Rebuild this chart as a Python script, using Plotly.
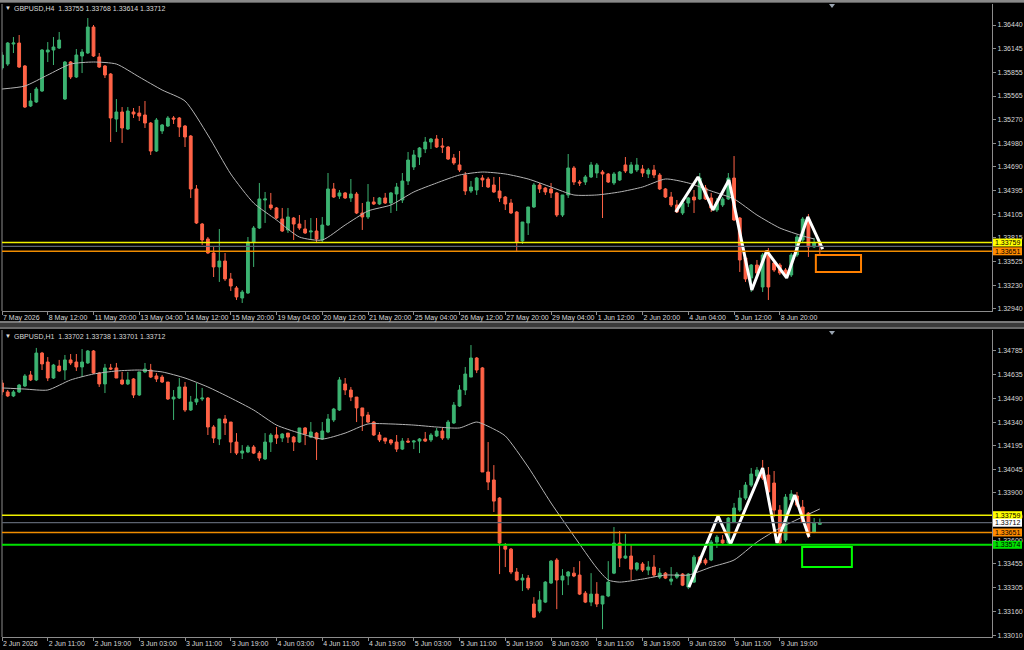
import plotly.graph_objects as go

# ---------------- H4 panel (top) ----------------
h4_labels = ["7 May 2026", "8 May 12:00", "11 May 20:00", "13 May 04:00", "14 May 12:00",
             "15 May 20:00", "19 May 04:00", "20 May 12:00", "21 May 20:00", "25 May 04:00",
             "26 May 12:00", "27 May 20:00", "29 May 04:00", "1 Jun 12:00", "2 Jun 20:00",
             "4 Jun 04:00", "5 Jun 12:00", "8 Jun 20:00"]
h4_ticks = [1.36440, 1.36145, 1.35855, 1.35565, 1.35270, 1.34980, 1.34690, 1.34395,
            1.34105, 1.33815, 1.33525, 1.33230, 1.32940]

h4_open = [
    1.35910, 1.35959, 1.36206, 1.36218, 1.35935, 1.35442, 1.35491, 1.35627, 1.36107, 1.36132,
    1.36156, 1.35528, 1.35984, 1.35799, 1.36058, 1.36095, 1.36415, 1.36046, 1.35935, 1.35836,
    1.35281, 1.35368, 1.35158, 1.35368, 1.35355, 1.35331, 1.35232, 1.34887, 1.35134, 1.35195,
    1.35294, 1.35294, 1.35195, 1.35072, 1.34419, 1.33987, 1.33803, 1.33630, 1.33458, 1.33531,
    1.33310, 1.33199, 1.33075, 1.33137, 1.33766, 1.33938, 1.34283, 1.34222, 1.34185, 1.34049,
    1.33914, 1.34061, 1.33987, 1.33926, 1.33889, 1.33901, 1.33790, 1.33975, 1.34419, 1.34332,
    1.34370, 1.34308, 1.34357, 1.34123, 1.34074, 1.34259, 1.34234, 1.34308, 1.34246, 1.34357,
    1.34283, 1.34517, 1.34690, 1.34813, 1.34912, 1.34998, 1.35035, 1.34949, 1.34936, 1.34801,
    1.34715, 1.34591, 1.34394, 1.34406, 1.34554, 1.34542, 1.34468, 1.34394, 1.34320, 1.34246,
    1.34135, 1.33778, 1.34000, 1.34197, 1.34468, 1.34431, 1.34419, 1.34370, 1.34098, 1.34345,
    1.34678, 1.34505, 1.34505, 1.34567, 1.34616, 1.34628, 1.34604, 1.34493, 1.34530, 1.34715,
    1.34616, 1.34653, 1.34665, 1.34604, 1.34653, 1.34591, 1.34419, 1.34320, 1.34222, 1.34123,
    1.34246, 1.34320, 1.34296, 1.34431, 1.34308, 1.34160, 1.34222, 1.34296, 1.34554, 1.34061,
    1.33568, 1.33322, 1.33482, 1.33211, 1.33605, 1.33507, 1.33482, 1.33420, 1.33359, 1.33605,
    1.33790, 1.34049, 1.33704, 1.33755]
h4_high = [
    1.36107, 1.36230, 1.36292, 1.36317, 1.35947, 1.35602, 1.35676, 1.36144, 1.36230, 1.36292,
    1.36354, 1.35996, 1.35996, 1.36144, 1.36144, 1.36526, 1.36440, 1.36095, 1.35947, 1.35848,
    1.35528, 1.35429, 1.35429, 1.35417, 1.35442, 1.35503, 1.35244, 1.35294, 1.35220, 1.35318,
    1.35318, 1.35306, 1.35208, 1.35084, 1.34468, 1.34000, 1.33827, 1.33704, 1.33926, 1.33630,
    1.33384, 1.33223, 1.33174, 1.33827, 1.33963, 1.34493, 1.34382, 1.34370, 1.34197, 1.34185,
    1.34185, 1.34074, 1.34098, 1.34037, 1.34061, 1.34061, 1.34074, 1.34616, 1.34493, 1.34406,
    1.34382, 1.34542, 1.34382, 1.34246, 1.34480, 1.34320, 1.34320, 1.34370, 1.34382, 1.34493,
    1.34616, 1.34875, 1.34899, 1.34936, 1.35060, 1.35047, 1.35084, 1.35047, 1.34949, 1.34850,
    1.34887, 1.34628, 1.34517, 1.34567, 1.34591, 1.34567, 1.34567, 1.34567, 1.34332, 1.34296,
    1.34148, 1.34012, 1.34197, 1.34493, 1.34493, 1.34443, 1.34493, 1.34382, 1.34345, 1.34850,
    1.34702, 1.34530, 1.34591, 1.34752, 1.34739, 1.34653, 1.34616, 1.34628, 1.34641, 1.34813,
    1.34752, 1.34801, 1.34715, 1.34678, 1.34715, 1.34616, 1.34431, 1.34382, 1.34283, 1.34283,
    1.34320, 1.34406, 1.34616, 1.34468, 1.34370, 1.34308, 1.34320, 1.34616, 1.34825, 1.34074,
    1.33581, 1.33494, 1.33544, 1.33630, 1.33692, 1.33544, 1.33507, 1.33445, 1.33630, 1.33852,
    1.34074, 1.34110, 1.33815, 1.33768]
h4_low = [
    1.35885, 1.35935, 1.36095, 1.35910, 1.35417, 1.35429, 1.35479, 1.35614, 1.35984, 1.35947,
    1.36144, 1.35516, 1.35774, 1.35787, 1.35848, 1.36083, 1.36046, 1.35910, 1.35787, 1.34998,
    1.35121, 1.34986, 1.35146, 1.35294, 1.35257, 1.35171, 1.34838, 1.34875, 1.35097, 1.35183,
    1.35220, 1.35060, 1.34936, 1.34308, 1.33987, 1.33729, 1.33618, 1.33334, 1.33273, 1.33285,
    1.33162, 1.33051, 1.33014, 1.33125, 1.33458, 1.33926, 1.34000, 1.34160, 1.34049, 1.33889,
    1.33877, 1.33790, 1.33914, 1.33864, 1.33790, 1.33753, 1.33766, 1.33963, 1.34308, 1.34296,
    1.34296, 1.34259, 1.34110, 1.33914, 1.34049, 1.34222, 1.34222, 1.34234, 1.34123, 1.34148,
    1.34246, 1.34468, 1.34653, 1.34715, 1.34862, 1.34912, 1.34924, 1.34862, 1.34776, 1.34715,
    1.34628, 1.34345, 1.34370, 1.34345, 1.34443, 1.34431, 1.34370, 1.34259, 1.34160, 1.34110,
    1.33655, 1.33741, 1.33852, 1.34185, 1.34370, 1.34345, 1.34308, 1.34074, 1.34074, 1.34308,
    1.34468, 1.34456, 1.34468, 1.34554, 1.34554, 1.34061, 1.34493, 1.34468, 1.34517, 1.34616,
    1.34604, 1.34628, 1.34567, 1.34554, 1.34554, 1.34406, 1.34308, 1.34197, 1.34123, 1.34098,
    1.34197, 1.34123, 1.34283, 1.34283, 1.34135, 1.34135, 1.34197, 1.34283, 1.34024, 1.33396,
    1.33273, 1.33149, 1.33359, 1.33149, 1.33051, 1.33396, 1.33359, 1.33334, 1.33334, 1.33581,
    1.33753, 1.33581, 1.33692, 1.33614]
h4_close = [
    1.36070, 1.36218, 1.36218, 1.35922, 1.35429, 1.35503, 1.35651, 1.36132, 1.36132, 1.36169,
    1.36255, 1.35984, 1.35799, 1.36070, 1.36107, 1.36415, 1.36058, 1.35922, 1.35824, 1.35294,
    1.35368, 1.35171, 1.35380, 1.35343, 1.35318, 1.35232, 1.34887, 1.35269, 1.35208, 1.35294,
    1.35281, 1.35183, 1.35060, 1.34419, 1.34000, 1.33790, 1.33630, 1.33458, 1.33531, 1.33310,
    1.33223, 1.33088, 1.33149, 1.33766, 1.33938, 1.34296, 1.34296, 1.34185, 1.34061, 1.33901,
    1.34074, 1.33987, 1.33938, 1.33877, 1.33901, 1.33803, 1.33975, 1.34419, 1.34320, 1.34370,
    1.34308, 1.34357, 1.34123, 1.34074, 1.34259, 1.34234, 1.34308, 1.34246, 1.34370, 1.34443,
    1.34517, 1.34776, 1.34838, 1.34924, 1.34998, 1.35035, 1.34936, 1.34936, 1.34788, 1.34739,
    1.34653, 1.34394, 1.34443, 1.34554, 1.34530, 1.34443, 1.34382, 1.34308, 1.34234, 1.34123,
    1.33766, 1.34012, 1.34197, 1.34468, 1.34419, 1.34382, 1.34370, 1.34098, 1.34345, 1.34678,
    1.34505, 1.34493, 1.34567, 1.34715, 1.34715, 1.34604, 1.34505, 1.34604, 1.34628, 1.34641,
    1.34715, 1.34715, 1.34616, 1.34653, 1.34591, 1.34419, 1.34320, 1.34222, 1.34135, 1.34246,
    1.34308, 1.34283, 1.34554, 1.34296, 1.34185, 1.34259, 1.34296, 1.34554, 1.34037, 1.33544,
    1.33310, 1.33482, 1.33384, 1.33605, 1.33211, 1.33420, 1.33384, 1.33359, 1.33605, 1.33827,
    1.34049, 1.33704, 1.33753, 1.33712]

h4_ma_idx = [0, 4, 8, 12, 16, 20, 24, 28, 32, 36, 40, 44, 48, 52, 56, 60, 64, 68, 72, 76, 80,
             84, 88, 92, 96, 100, 104, 108, 112, 116, 120, 124, 128, 132, 136, 140, 142]
h4_ma = [1.35651, 1.35688, 1.35824, 1.35959, 1.35984, 1.35959, 1.35799, 1.35639, 1.35503,
         1.35084, 1.34604, 1.34246, 1.34037, 1.33827, 1.33790, 1.33975, 1.34148, 1.34222,
         1.34382, 1.34493, 1.34591, 1.34628, 1.34604, 1.34542, 1.34443, 1.34345, 1.34345,
         1.34382, 1.34443, 1.34542, 1.34493, 1.34394, 1.34296, 1.34098, 1.33938, 1.33840,
         1.33803]

h4_zig_idx = [117.8, 121.7, 124.3, 127.1, 131.1, 133.7, 137.2, 140.9, 143.5]
h4_zig = [1.34135, 1.34567, 1.34160, 1.34530, 1.33174, 1.33655, 1.33322, 1.34074, 1.33679]

h4_box_idx = [142.3, 150.2]
h4_box_price = [1.33396, 1.33605]

# ---------------- H1 panel (bottom) ----------------
h1_labels = ["2 Jun 2026", "2 Jun 11:00", "2 Jun 19:00", "3 Jun 03:00", "3 Jun 11:00",
             "3 Jun 19:00", "4 Jun 03:00", "4 Jun 11:00", "4 Jun 19:00", "5 Jun 03:00",
             "5 Jun 11:00", "5 Jun 19:00", "8 Jun 03:00", "8 Jun 11:00", "8 Jun 19:00",
             "9 Jun 03:00", "9 Jun 11:00", "9 Jun 19:00"]
h1_ticks = [1.34785, 1.34635, 1.34490, 1.34340, 1.34195, 1.34045, 1.33900, 1.33750,
            1.33600, 1.33455, 1.33305, 1.33160, 1.33010]

h1_open = [
    1.34585, 1.34529, 1.34504, 1.34529, 1.34566, 1.34635, 1.34604, 1.34772, 1.34716, 1.34616,
    1.34691, 1.34666, 1.34729, 1.34716, 1.34685, 1.34710, 1.34785, 1.34647, 1.34579, 1.34679,
    1.34679, 1.34604, 1.34579, 1.34610, 1.34510, 1.34654, 1.34666, 1.34629, 1.34622, 1.34591,
    1.34485, 1.34491, 1.34560, 1.34416, 1.34466, 1.34485, 1.34491, 1.34310, 1.34235, 1.34360,
    1.34341, 1.34216, 1.34147, 1.34154, 1.34185, 1.34147, 1.34110, 1.34216, 1.34260, 1.34241,
    1.34272, 1.34247, 1.34216, 1.34304, 1.34247, 1.34272, 1.34235, 1.34279, 1.34354, 1.34416,
    1.34579, 1.34541, 1.34497, 1.34429, 1.34385, 1.34341, 1.34260, 1.34241, 1.34229, 1.34216,
    1.34172, 1.34222, 1.34216, 1.34222, 1.34235, 1.34229, 1.34254, 1.34285, 1.34241, 1.34335,
    1.34441, 1.34541, 1.34622, 1.34741, 1.34679, 1.34029, 1.33979, 1.33866, 1.33566, 1.33547,
    1.33404, 1.33354, 1.33366, 1.33204, 1.33160, 1.33216, 1.33335, 1.33479, 1.33354, 1.33379,
    1.33397, 1.33385, 1.33272, 1.33216, 1.33266, 1.33204, 1.33254, 1.33397, 1.33585, 1.33491,
    1.33504, 1.33422, 1.33454, 1.33416, 1.33435, 1.33372, 1.33397, 1.33347, 1.33372, 1.33391,
    1.33310, 1.33341, 1.33497, 1.33479, 1.33479, 1.33591, 1.33604, 1.33585, 1.33716, 1.33791,
    1.33866, 1.33947, 1.34004, 1.34041, 1.34010, 1.33960, 1.33791, 1.33604, 1.33854, 1.33879,
    1.33810, 1.33772, 1.33654, 1.33702]
h1_high = [
    1.34604, 1.34541, 1.34541, 1.34579, 1.34641, 1.34660, 1.34804, 1.34779, 1.34747, 1.34704,
    1.34729, 1.34760, 1.34766, 1.34766, 1.34797, 1.34791, 1.34791, 1.34654, 1.34704, 1.34704,
    1.34710, 1.34654, 1.34654, 1.34616, 1.34654, 1.34710, 1.34704, 1.34647, 1.34635, 1.34591,
    1.34541, 1.34616, 1.34591, 1.34504, 1.34585, 1.34554, 1.34497, 1.34322, 1.34360, 1.34385,
    1.34341, 1.34272, 1.34197, 1.34197, 1.34197, 1.34160, 1.34272, 1.34272, 1.34310, 1.34272,
    1.34272, 1.34254, 1.34304, 1.34310, 1.34341, 1.34279, 1.34341, 1.34391, 1.34429, 1.34622,
    1.34616, 1.34560, 1.34497, 1.34429, 1.34404, 1.34347, 1.34279, 1.34241, 1.34235, 1.34260,
    1.34241, 1.34241, 1.34229, 1.34241, 1.34279, 1.34272, 1.34304, 1.34304, 1.34354, 1.34466,
    1.34572, 1.34685, 1.34822, 1.34747, 1.34685, 1.34216, 1.34072, 1.33872, 1.33585, 1.33554,
    1.33429, 1.33391, 1.33385, 1.33247, 1.33285, 1.33347, 1.33479, 1.33491, 1.33422, 1.33410,
    1.33435, 1.33472, 1.33285, 1.33397, 1.33341, 1.33254, 1.33472, 1.33685, 1.33660, 1.33641,
    1.33572, 1.33466, 1.33466, 1.33472, 1.33510, 1.33429, 1.33404, 1.33435, 1.33404, 1.33397,
    1.33397, 1.33510, 1.33504, 1.33491, 1.33604, 1.33635, 1.33635, 1.33747, 1.33835, 1.33916,
    1.33966, 1.34054, 1.34060, 1.34104, 1.34060, 1.34035, 1.33822, 1.33891, 1.33916, 1.33904,
    1.33854, 1.33779, 1.33741, 1.33738]
h1_low = [
    1.34510, 1.34497, 1.34497, 1.34522, 1.34560, 1.34597, 1.34597, 1.34666, 1.34597, 1.34610,
    1.34654, 1.34604, 1.34697, 1.34660, 1.34622, 1.34704, 1.34641, 1.34560, 1.34522, 1.34666,
    1.34616, 1.34572, 1.34572, 1.34491, 1.34504, 1.34647, 1.34616, 1.34591, 1.34585, 1.34479,
    1.34354, 1.34485, 1.34404, 1.34410, 1.34447, 1.34472, 1.34260, 1.34210, 1.34197, 1.34260,
    1.34147, 1.34135, 1.34110, 1.34147, 1.34141, 1.34097, 1.34104, 1.34154, 1.34204, 1.34216,
    1.34210, 1.34160, 1.34210, 1.34197, 1.34241, 1.34104, 1.34229, 1.34272, 1.34341, 1.34410,
    1.34510, 1.34472, 1.34341, 1.34285, 1.34335, 1.34254, 1.34216, 1.34204, 1.34197, 1.34154,
    1.34166, 1.34210, 1.34172, 1.34147, 1.34216, 1.34216, 1.34247, 1.34229, 1.34229, 1.34329,
    1.34435, 1.34510, 1.34622, 1.34647, 1.34029, 1.33916, 1.33779, 1.33391, 1.33435, 1.33391,
    1.33347, 1.33285, 1.33291, 1.33116, 1.33147, 1.33210, 1.33329, 1.33172, 1.33260, 1.33322,
    1.33372, 1.33260, 1.33210, 1.33191, 1.33185, 1.33047, 1.33247, 1.33391, 1.33435, 1.33485,
    1.33354, 1.33410, 1.33404, 1.33385, 1.33372, 1.33360, 1.33360, 1.33322, 1.33360, 1.33316,
    1.33297, 1.33335, 1.33447, 1.33447, 1.33472, 1.33554, 1.33572, 1.33579, 1.33710, 1.33779,
    1.33854, 1.33935, 1.33979, 1.33979, 1.33885, 1.33747, 1.33572, 1.33591, 1.33822, 1.33810,
    1.33710, 1.33616, 1.33647, 1.33701]
h1_close = [
    1.34529, 1.34504, 1.34529, 1.34572, 1.34629, 1.34604, 1.34772, 1.34704, 1.34616, 1.34697,
    1.34660, 1.34729, 1.34710, 1.34685, 1.34716, 1.34785, 1.34647, 1.34579, 1.34679, 1.34672,
    1.34616, 1.34579, 1.34604, 1.34510, 1.34654, 1.34672, 1.34622, 1.34610, 1.34591, 1.34485,
    1.34497, 1.34560, 1.34416, 1.34466, 1.34485, 1.34491, 1.34310, 1.34241, 1.34360, 1.34335,
    1.34216, 1.34147, 1.34160, 1.34185, 1.34147, 1.34116, 1.34216, 1.34260, 1.34241, 1.34266,
    1.34247, 1.34216, 1.34304, 1.34266, 1.34279, 1.34235, 1.34285, 1.34360, 1.34422, 1.34604,
    1.34541, 1.34497, 1.34429, 1.34379, 1.34341, 1.34260, 1.34229, 1.34222, 1.34210, 1.34172,
    1.34222, 1.34216, 1.34222, 1.34235, 1.34222, 1.34260, 1.34285, 1.34241, 1.34341, 1.34447,
    1.34541, 1.34641, 1.34741, 1.34666, 1.34029, 1.33966, 1.33847, 1.33585, 1.33547, 1.33404,
    1.33354, 1.33366, 1.33304, 1.33122, 1.33229, 1.33341, 1.33472, 1.33354, 1.33379, 1.33404,
    1.33379, 1.33266, 1.33216, 1.33266, 1.33204, 1.33254, 1.33341, 1.33585, 1.33491, 1.33504,
    1.33422, 1.33460, 1.33416, 1.33435, 1.33385, 1.33397, 1.33366, 1.33360, 1.33391, 1.33322,
    1.33391, 1.33497, 1.33460, 1.33460, 1.33591, 1.33622, 1.33585, 1.33741, 1.33804, 1.33866,
    1.33947, 1.34016, 1.34041, 1.33991, 1.33904, 1.33791, 1.33585, 1.33872, 1.33891, 1.33822,
    1.33716, 1.33635, 1.33710, 1.33712]

h1_ma_idx = [0, 4, 8, 12, 16, 20, 24, 28, 32, 36, 40, 44, 48, 52, 56, 60, 64, 68, 72, 76, 80,
             83, 86, 88, 92, 96, 100, 104, 106, 108, 112, 116, 120, 124, 128, 132, 136, 140, 143]
h1_ma = [1.34554, 1.34547, 1.34541, 1.34604, 1.34641, 1.34660, 1.34666, 1.34654, 1.34616,
         1.34560, 1.34491, 1.34416, 1.34322, 1.34272, 1.34235, 1.34272, 1.34329, 1.34329,
         1.34322, 1.34310, 1.34304, 1.34341, 1.34297, 1.34254, 1.34060, 1.33835, 1.33629,
         1.33429, 1.33354, 1.33341, 1.33360, 1.33385, 1.33385, 1.33435, 1.33479, 1.33591,
         1.33679, 1.33748, 1.33798]

h1_zig_idx = [120.1, 125.2, 127.4, 133.0, 135.5, 138.6, 141.1]
h1_zig = [1.33310, 1.33754, 1.33579, 1.34054, 1.33585, 1.33885, 1.33623]

h1_box_idx = [139.9, 148.6]
h1_box_price = [1.33435, 1.33560]

# ---------------- horizontal levels ----------------
level_yellow = 1.33759
level_bid = 1.33712
level_orange = 1.33651
level_green = 1.33574

# ---------------- styling ----------------
W, H = 1024, 650
GREEN = "#3cb371"
RED = "#ff6347"
AXC = "#8c8c8c"
TXT = "#d8d8d8"
FONT = "Liberation Sans"
FS = 7


def px(x):
    return x / W


def py(y):
    return 1 - y / H


fig = go.Figure()


def add_panel(xa, ya, o, h, l, c, ma_idx, ma, zig_idx, zig):
    fig.add_trace(go.Candlestick(
        x=list(range(len(o))), open=o, high=h, low=l, close=c,
        xaxis=xa, yaxis=ya, whiskerwidth=0,
        increasing=dict(line=dict(color=GREEN, width=1), fillcolor=GREEN),
        decreasing=dict(line=dict(color=RED, width=1), fillcolor=RED),
        showlegend=False, hoverinfo="skip"))
    fig.add_trace(go.Scatter(x=ma_idx, y=ma, mode="lines", xaxis=xa, yaxis=ya,
                             line=dict(color="#b4b4b4", width=1, shape="spline", smoothing=0.6),
                             showlegend=False, hoverinfo="skip"))
    fig.add_trace(go.Scatter(x=zig_idx, y=zig, mode="lines", xaxis=xa, yaxis=ya,
                             line=dict(color="#ffffff", width=3),
                             showlegend=False, hoverinfo="skip"))


add_panel("x", "y", h4_open, h4_high, h4_low, h4_close, h4_ma_idx, h4_ma, h4_zig_idx, h4_zig)
add_panel("x2", "y2", h1_open, h1_high, h1_low, h1_close, h1_ma_idx, h1_ma, h1_zig_idx, h1_zig)

xdom = [px(2), px(992)]
top_dom = [py(311), py(4)]
bot_dom = [py(637), py(330)]
xr = [0, 173.1]


def xaxis_cfg(labels, anchor):
    return dict(domain=xdom, range=xr, anchor=anchor, automargin=False, tickangle=0,
                tickvals=list(range(0, 8 * len(labels), 8)), ticktext=labels,
                ticks="outside", ticklen=3, tickcolor=AXC, ticklabelposition="outside right",
                showline=True, linecolor=AXC, linewidth=1, showgrid=False, zeroline=False,
                tickfont=dict(family=FONT, size=FS, color=TXT),
                rangeslider=dict(visible=False), fixedrange=True)


def yaxis_cfg(ticks, rng, dom, anchor):
    return dict(domain=dom, range=rng, anchor=anchor, side="right", automargin=False,
                tickvals=ticks, ticktext=[f"{v:.5f}" for v in ticks],
                ticks="outside", ticklen=3, tickcolor=AXC,
                showline=True, linecolor=AXC, linewidth=1, showgrid=False, zeroline=False,
                tickfont=dict(family=FONT, size=FS, color=TXT), fixedrange=True)


shapes = []
annotations = []

# window chrome
shapes.append(dict(type="rect", xref="paper", yref="paper", x0=0, x1=1, y0=py(3), y1=1,
                   fillcolor="#5a5a5a", line=dict(width=0), layer="below"))
shapes.append(dict(type="line", xref="paper", yref="paper", x0=0, x1=1, y0=py(1), y1=py(1),
                   line=dict(color="#b8b8b8", width=1)))
shapes.append(dict(type="rect", xref="paper", yref="paper", x0=0, x1=1, y0=py(329), y1=py(321),
                   fillcolor="#3a3a3a", line=dict(width=0), layer="below"))
shapes.append(dict(type="line", xref="paper", yref="paper", x0=0, x1=1, y0=py(322), y1=py(322),
                   line=dict(color="#b8b8b8", width=1)))
shapes.append(dict(type="line", xref="paper", yref="paper", x0=0, x1=1, y0=py(328), y1=py(328),
                   line=dict(color="#9a9a9a", width=1)))
for (a, b) in [(4, 311), (330, 637)]:
    shapes.append(dict(type="line", xref="paper", yref="paper", x0=px(2), x1=px(2),
                       y0=py(b), y1=py(a), line=dict(color=AXC, width=1)))
# chart-shift markers
for yt in [4, 331]:
    shapes.append(dict(type="path", xref="paper", yref="paper",
                       path=f"M {px(829)},{py(yt)} L {px(835)},{py(yt)} L {px(832)},{py(yt+4)} Z",
                       fillcolor="#9aa4b0", line=dict(width=0)))


def hline(yref, val, color, width=1.5):
    shapes.append(dict(type="line", xref=yref.replace("y", "x") + " domain", yref=yref,
                       x0=0, x1=1, y0=val, y1=val, line=dict(color=color, width=width)))


def price_tag(yref, val, bg, fg="#000000"):
    shapes.append(dict(type="rect", xref="paper", yref=yref, x0=px(993), x1=px(1022),
                       ysizemode="pixel", yanchor=val, y0=-4, y1=4,
                       fillcolor=bg, line=dict(width=0), layer="above"))
    annotations.append(dict(xref="paper", yref=yref, x=px(1007.5), y=val, text=f"{val:.5f}",
                            showarrow=False, xanchor="center", yanchor="middle",
                            font=dict(family=FONT, size=FS, color=fg)))


# top panel levels
hline("y", level_yellow, "#f0f000")
hline("y", level_bid, "#5c6370", 1.2)
hline("y", level_orange, "#f08c00")
price_tag("y", level_yellow, "#ffff00")
price_tag("y", level_orange, "#ff8c00")
shapes.append(dict(type="rect", xref="x", yref="y", x0=h4_box_idx[0], x1=h4_box_idx[1],
                   y0=h4_box_price[0], y1=h4_box_price[1],
                   line=dict(color="#ff8000", width=2)))

# bottom panel levels
hline("y2", level_yellow, "#f0f000")
hline("y2", level_bid, "#5c6370", 1.2)
hline("y2", level_orange, "#f08c00")
hline("y2", level_green, "#00e000", 2)
price_tag("y2", level_yellow, "#ffff00")
price_tag("y2", level_bid, "#ffffff")
price_tag("y2", level_orange, "#ff8c00")
price_tag("y2", level_green, "#00e000")
shapes.append(dict(type="rect", xref="x2", yref="y2", x0=h1_box_idx[0], x1=h1_box_idx[1],
                   y0=h1_box_price[0], y1=h1_box_price[1],
                   line=dict(color="#00ff00", width=2)))

# panel titles
for (ypix, name, o, h, l, c) in [
        (8, "GBPUSD,H4", h4_open, h4_high, h4_low, h4_close),
        (336, "GBPUSD,H1", h1_open, h1_high, h1_low, h1_close)]:
    annotations.append(dict(xref="paper", yref="paper", x=px(3), y=py(ypix), text="▼",
                            showarrow=False, xanchor="left", yanchor="middle",
                            font=dict(family=FONT, size=6, color="#e0e0e0")))
    annotations.append(dict(xref="paper", yref="paper", x=px(12), y=py(ypix),
                            text=f"{name}  {o[-1]:.5f} {h[-1]:.5f} {l[-1]:.5f} {c[-1]:.5f}",
                            showarrow=False, xanchor="left", yanchor="middle",
                            font=dict(family=FONT, size=FS, color=TXT)))

fig.update_layout(
    width=W, height=H, margin=dict(l=0, r=0, t=0, b=0, autoexpand=False),
    paper_bgcolor="#000000", plot_bgcolor="#000000",
    showlegend=False, hovermode=False, dragmode=False,
    xaxis=xaxis_cfg(h4_labels, "y"),
    yaxis=yaxis_cfg(h4_ticks, [1.32915, 1.36699], top_dom, "x"),
    xaxis2=xaxis_cfg(h1_labels, "y2"),
    yaxis2=yaxis_cfg(h1_ticks, [1.32998, 1.34916], bot_dom, "x2"),
    shapes=shapes, annotations=annotations,
)

fig.write_html("out.html", config={"displayModeBar": False, "staticPlot": True},
               post_script="document.body.style.margin='0px';document.body.style.padding='0px';"
                           "document.body.style.background='#000';")
